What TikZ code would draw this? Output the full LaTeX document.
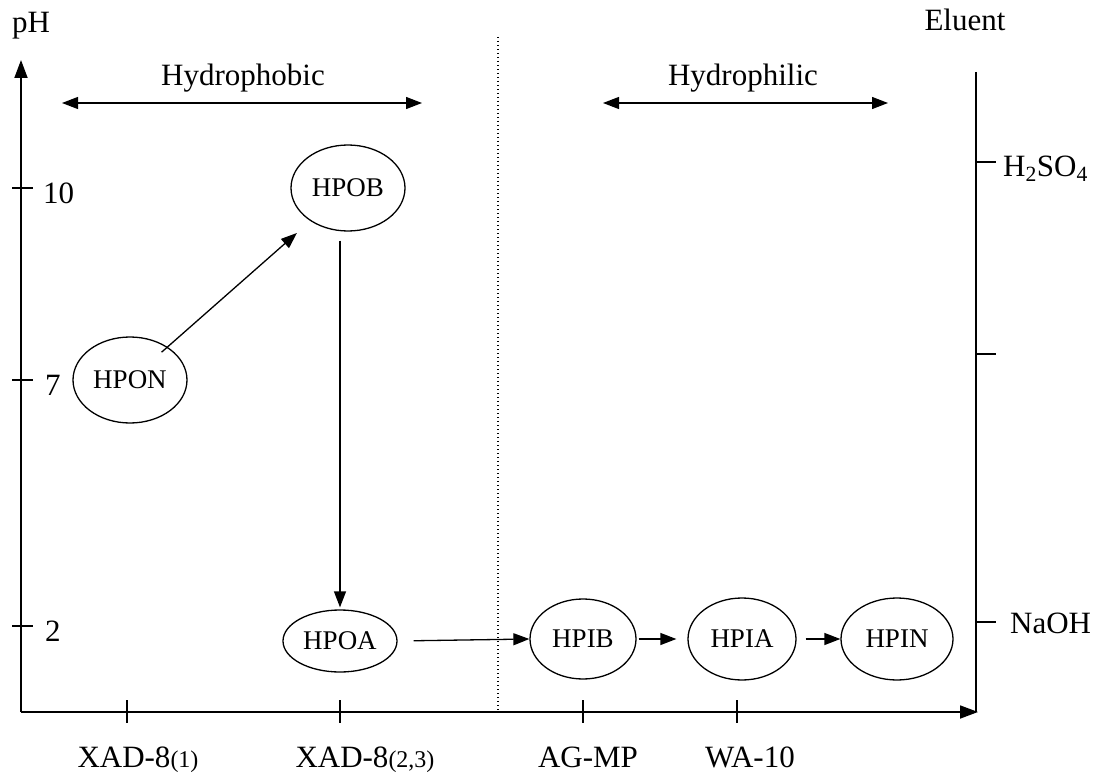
\documentclass[tikz,border=0pt]{standalone}
\usepackage{fontspec}
\setmainfont{Liberation Serif}
\usetikzlibrary{shapes.geometric,arrows.meta,calc}
\begin{document}
\begin{tikzpicture}[x=1pt,y=-1pt,
  lbl/.style={font=\fontsize{31}{31}\selectfont, inner sep=0pt},
  frac/.style={draw, ellipse, line width=1.3pt, inner sep=0pt, font=\fontsize{27}{27}\selectfont},
  axisline/.style={line width=1.8pt},
  axtip/.style={-{Triangle[length=18pt,width=13pt]}},
  arr/.style={line width=1.3pt, -{Triangle[length=16pt,width=12pt]}},
  dbl/.style={line width=1.3pt, {Triangle[length=16pt,width=12pt]}-{Triangle[length=16pt,width=12pt]}},
  tickline/.style={line width=1.3pt}]
\useasboundingbox (0,0) rectangle (1104,776);

% axes
\coordinate (O) at (21,712);
\coordinate (Ytop) at (21,60);
\coordinate (Xend) at (978,712);
\coordinate (Etop) at (976,72);
\coordinate (Ebot) at (976,712);
\draw[axisline,axtip] (O) -- (Ytop);
\draw[axisline,axtip] (O) -- (Xend);
\draw[axisline] (Etop) -- (Ebot);

% dotted separator
\coordinate (Dtop) at (498,37);
\coordinate (Dbot) at (498,712);
\draw[line width=1.2pt, dash pattern=on 1.3pt off 2.7pt] (Dtop) -- (Dbot);

% axis titles
\node[lbl,anchor=base] (ph) at (31,33) {pH};
\node[lbl,anchor=base] (eluent) at (965,31) {Eluent};

% pH ticks
\draw[tickline] (12,188) -- (33,188);
\draw[tickline] (12,380) -- (33,380);
\draw[tickline] (12,626) -- (33,626);
\node[lbl,anchor=base west] (t10) at (43,203) {10};
\node[lbl,anchor=base west] (t7) at (45,395) {7};
\node[lbl,anchor=base west] (t2) at (45,641) {2};

% eluent ticks
\draw[tickline] (976,162) -- (996,162);
\draw[tickline] (976,354) -- (996,354);
\draw[tickline] (976,622) -- (996,622);
\node[lbl,anchor=base west] (h2so4) at (1003,176) {H\textsubscript{2}SO\textsubscript{4}};
\node[lbl,anchor=base west] (naoh) at (1010,633) {NaOH};

% x ticks
\foreach \x in {127,340,583,737} \draw[tickline] (\x,700) -- (\x,723);
\node[lbl,anchor=base] (xad1) at (138,767) {XAD-8{\fontsize{24}{24}\selectfont(1)}};
\node[lbl,anchor=base] (xad2) at (365,767) {XAD-8{\fontsize{24}{24}\selectfont(2,3)}};
\node[lbl,anchor=base] (agmp) at (588,767) {AG-MP};
\node[lbl,anchor=base] (wa10) at (750,767) {WA-10};

% hydrophobic / hydrophilic
\node[lbl,anchor=base] (hpob-lbl) at (243,85) {Hydrophobic};
\node[lbl,anchor=base] (hpil-lbl) at (743,85) {Hydrophilic};
\coordinate (hb1) at (62,103);
\coordinate (hb2) at (422,103);
\coordinate (hl1) at (603,103);
\coordinate (hl2) at (888,103);
\draw[dbl] (hb1) -- (hb2);
\draw[dbl] (hl1) -- (hl2);

% fractions
\node[frac, minimum width=114pt, minimum height=86pt] (hpon) at (130,380) {HPON};
\node[frac, minimum width=114pt, minimum height=86pt] (hpob) at (348,188) {HPOB};
\node[frac, minimum width=114pt, minimum height=62pt] (hpoa) at (340,641) {HPOA};
\node[frac, minimum width=106pt, minimum height=80pt] (hpib) at (583,639) {HPIB};
\node[frac, minimum width=108pt, minimum height=82pt] (hpia) at (742,639) {HPIA};
\node[frac, minimum width=112pt, minimum height=82pt] (hpin) at (897,639) {HPIN};

% flow arrows
\draw[arr, shorten <=-8pt, shorten >=18pt] (hpon) -- (hpob);
\draw[arr, shorten <=9pt, shorten >=2pt] (hpob.south -| hpoa.north) -- (hpoa.north);
\draw[arr, shorten <=16pt] (hpoa.east) -- (hpib.west);
\draw[arr, shorten <=2pt, shorten >=11pt] (hpib.east) -- (hpia.west);
\draw[arr, shorten <=9pt] (hpia.east) -- (hpin.west);
\end{tikzpicture}
\end{document}
